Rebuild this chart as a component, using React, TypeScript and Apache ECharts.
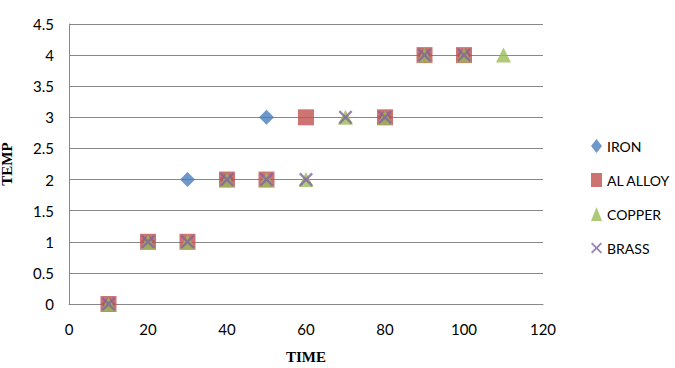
import React, { useEffect, useRef } from "react";
import * as echarts from "echarts";

// TIME values with TEMP readings for each material
const ironTime = [10, 20, 30, 40, 50, 80, 90, 100];
const ironTemp = [0, 1, 2, 2, 3, 3, 4, 4];

const alTime = [10, 20, 30, 40, 50, 60, 80, 90, 100];
const alTemp = [0, 1, 1, 2, 2, 3, 3, 4, 4];

const copperTime = [10, 20, 30, 40, 50, 60, 70, 80, 90, 100, 110];
const copperTemp = [0, 1, 1, 2, 2, 2, 3, 3, 4, 4, 4];

const brassTime = [10, 20, 30, 40, 50, 60, 70, 80, 90, 100];
const brassTemp = [0, 1, 1, 2, 2, 2, 3, 3, 4, 4];

const seriesNames = ["IRON", "AL ALLOY", "COPPER", "BRASS"];

const pairs = (xs: number[], ys: number[]) => xs.map((x, i) => [x, ys[i]]);

const crossSymbol =
  "path://M0,1.2L1.2,0L5,3.8L8.8,0L10,1.2L6.2,5L10,8.8L8.8,10L5,6.2L1.2,10L0,8.8L3.8,5Z";

export default function App() {
  const ref = useRef<HTMLDivElement>(null);

  useEffect(() => {
    if (!ref.current) return;
    const chart = echarts.init(ref.current, null, { renderer: "svg" });
    const labelFont = "Lato, 'Open Sans', sans-serif";
    chart.setOption({
      animation: false,
      backgroundColor: "#ffffff",
      grid: {
        left: 69,
        right: 132,
        top: 24,
        bottom: 64,
        outerBoundsMode: "none",
        containLabel: false,
      },
      legend: {
        orient: "vertical",
        left: 586,
        top: 134,
        itemGap: 20,
        itemWidth: 11,
        itemHeight: 14,
        textStyle: { fontFamily: labelFont, fontSize: 14, color: "#000" },
        data: [
          { name: seriesNames[0], icon: "diamond" },
          { name: seriesNames[1], icon: "rect" },
          { name: seriesNames[2], icon: "triangle" },
          { name: seriesNames[3], icon: crossSymbol },
        ],
      },
      xAxis: {
        type: "value",
        min: 0,
        max: 120,
        interval: 20,
        name: "TIME",
        nameLocation: "middle",
        nameGap: 45,
        nameTextStyle: {
          fontFamily: "'Liberation Serif', serif",
          fontWeight: "bold",
          fontSize: 15,
          color: "#000",
        },
        axisLine: { lineStyle: { color: "#888888", width: 1 } },
        axisTick: { show: false },
        splitLine: { show: false },
        axisLabel: { fontFamily: labelFont, fontSize: 15, color: "#000", margin: 17 },
      },
      yAxis: {
        type: "value",
        min: 0,
        max: 4.5,
        interval: 0.5,
        name: "TEMP",
        nameLocation: "middle",
        nameGap: 55,
        nameRotate: 90,
        nameTextStyle: {
          fontFamily: "'Liberation Serif', serif",
          fontWeight: "bold",
          fontSize: 15,
          color: "#000",
        },
        axisLine: { show: true, lineStyle: { color: "#888888", width: 1 } },
        axisTick: { show: false },
        splitLine: { lineStyle: { color: "#888888", width: 1 } },
        axisLabel: { fontFamily: labelFont, fontSize: 15, color: "#000", margin: 15 },
      },
      series: [
        {
          name: seriesNames[0],
          type: "scatter",
          symbol: "diamond",
          symbolSize: 15,
          itemStyle: { color: "#4A7EBB" },
          data: pairs(ironTime, ironTemp),
        },
        {
          name: seriesNames[1],
          type: "scatter",
          symbol: "rect",
          symbolSize: 16,
          itemStyle: { color: "#C0504D" },
          data: pairs(alTime, alTemp),
        },
        {
          name: seriesNames[2],
          type: "scatter",
          symbol: "triangle",
          symbolSize: 15,
          itemStyle: { color: "#9BBB59" },
          data: pairs(copperTime, copperTemp),
        },
        {
          name: seriesNames[3],
          type: "scatter",
          symbol: crossSymbol,
          symbolSize: 14,
          itemStyle: { color: "#8064A2" },
          data: pairs(brassTime, brassTemp),
        },
      ],
    });
    return () => chart.dispose();
  }, []);

  return (
    <div
      ref={ref}
      style={{ width: 675, height: 368, position: "absolute", left: 0, top: 0 }}
    />
  );
}
